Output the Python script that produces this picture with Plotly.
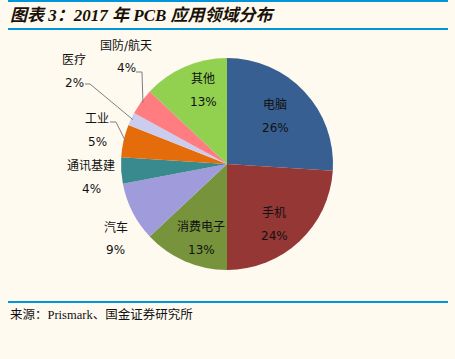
import math
import plotly.graph_objects as go

# ---- data ----
categories = ["电脑", "手机", "消费电子", "汽车", "通讯基建", "工业", "医疗", "国防/航天", "其他"]
shares = [26, 24, 13, 9, 4, 5, 2, 4, 13]

# ---- styles / layout (kept separate from data) ----
colors = ["#375F91", "#953735", "#77933C", "#A09BDB", "#388A8F",
          "#E46C0A", "#CCCDEE", "#FF7C80", "#92D050"]
W, H = 455, 359
CX, CY, R = 227, 164, 106
# label centre (x, y of name line) in pixels
label_pos = [(275, 105), (274, 213), (201, 227), (116, 227), (91, 166),
             (97, 119), (74, 60), (126, 45), (203, 79)]
LINE_GAP = 23
# leader lines: label-side start and elbow (pixels); None = no leader
leaders = [None, None, None, None, None,
           ((110, 122), (116, 122)), ((85, 84), (90, 84)), ((136, 72), (142, 72)), None]

BG = "#FEFAF0"
BLUE = "#0096D9"


def px(x):
    return x / W


def py(y):
    return 1 - y / H


fig = go.Figure()
fig.add_trace(go.Pie(
    labels=categories, values=shares, sort=False, direction="clockwise",
    rotation=0, textinfo="none", hoverinfo="label+percent",
    marker=dict(colors=colors, line=dict(width=0)),
    domain=dict(x=[px(CX - R), px(CX + R)], y=[py(CY + R), py(CY - R)]),
    showlegend=False,
))

annotations = []
shapes = []
total = sum(shares)
cum = 0
lab_font = dict(family="DejaVu Sans, Noto Sans CJK SC", size=12, color="#111111")
for i, (name, v) in enumerate(zip(categories, shares)):
    mid = (cum + v / 2) / total * 2 * math.pi
    cum += v
    lx, ly = label_pos[i]
    pct = f"{round(v / total * 100)}%"
    annotations.append(dict(x=px(lx), y=py(ly), xref="paper", yref="paper", text=name,
                            showarrow=False, font=lab_font, xanchor="center", yanchor="middle"))
    annotations.append(dict(x=px(lx), y=py(ly + LINE_GAP), xref="paper", yref="paper", text=pct,
                            showarrow=False, font=lab_font, xanchor="center", yanchor="middle"))
    if leaders[i] is not None:
        (sx, sy), (ex, ey) = leaders[i]
        tx = CX + R * 0.98 * math.sin(mid)
        ty = CY - R * 0.98 * math.cos(mid)
        pts = [(sx, sy), (ex, ey), (tx, ty)]
        for (ax, ay), (bx, by) in zip(pts[:-1], pts[1:]):
            shapes.append(dict(type="line", xref="paper", yref="paper",
                               x0=px(ax), y0=py(ay), x1=px(bx), y1=py(by),
                               line=dict(color="#7F7F7F", width=1)))

# decorative blue rules
for yy in (1, 29, 302):
    shapes.append(dict(type="line", xref="paper", yref="paper", x0=px(8), x1=px(448),
                       y0=py(yy), y1=py(yy), line=dict(color=BLUE, width=2.2)))

annotations.append(dict(x=px(8), y=py(15), xref="paper", yref="paper",
                        text="<b><i>图表 3：2017 年 PCB 应用领域分布</i></b>", showarrow=False,
                        xanchor="left", yanchor="middle",
                        font=dict(family="Liberation Serif, Noto Sans CJK SC", size=17, color="#1A1208")))
annotations.append(dict(x=px(8), y=py(314), xref="paper", yref="paper",
                        text="来源：Prismark、国金证券研究所", showarrow=False,
                        xanchor="left", yanchor="middle",
                        font=dict(family="Liberation Serif, Noto Sans CJK SC", size=12.5, color="#111111")))

fig.update_layout(
    width=W, height=H, autosize=False,
    margin=dict(l=0, r=0, t=0, b=0),
    paper_bgcolor=BG, plot_bgcolor=BG,
    annotations=annotations, shapes=shapes,
)
fig.write_html("out.html", config={"displayModeBar": False},
               post_script="document.body.style.margin='0';document.body.style.overflow='hidden';"
                           "document.body.style.background='" + BG + "';")
